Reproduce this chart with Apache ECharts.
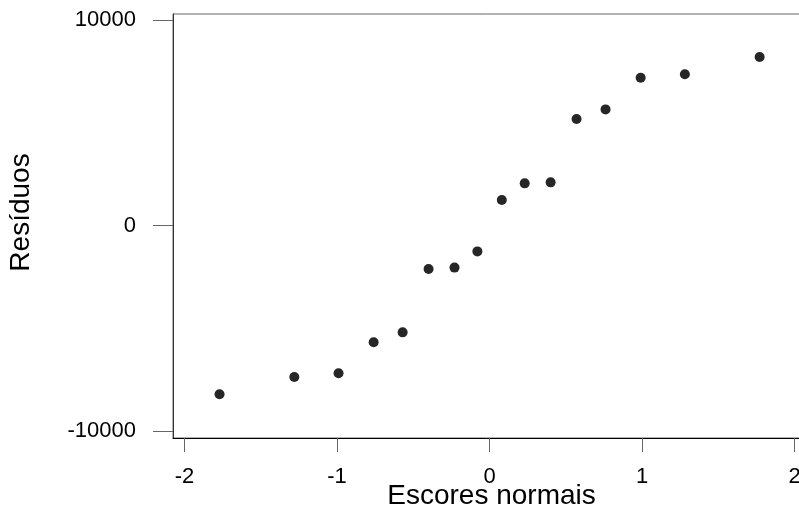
<!DOCTYPE html>
<html>
<head>
<meta charset="utf-8">
<script src="https://cdn.jsdelivr.net/npm/echarts@6/dist/echarts.min.js"></script>
<style>html,body{margin:0;padding:0;background:#fff;}#c{width:799px;height:519px;}</style>
</head>
<body>
<div id="c"></div>
<script>
// Normal scores (x) and residuals (y)
var normalScores = [-1.77, -1.28, -0.99, -0.76, -0.57, -0.40, -0.23, -0.08, 0.08, 0.23, 0.40, 0.57, 0.76, 0.99, 1.28, 1.77];
var residuals = [-8210, -7370, -7190, -5680, -5200, -2120, -2050, -1260, 1240, 2050, 2100, 5180, 5650, 7190, 7360, 8200];
var xTicks = [-2, -1, 0, 1, 2];
var yTicks = [-10000, 0, 10000];
var xName = 'Escores normais';
var yName = 'Resíduos';

var points = normalScores.map(function (x, i) { return [x, residuals[i]]; });
var font = '"Liberation Sans", Arial, sans-serif';

var chart = echarts.init(document.getElementById('c'), null, {renderer: 'canvas'});
chart.setOption({
  animation: false,
  backgroundColor: '#ffffff',
  grid: {
    left: 173, top: 14, width: 637, height: 424,
    outerBoundsMode: 'none', containLabel: false,
    show: true, borderColor: '#666', borderWidth: 1, backgroundColor: 'transparent'
  },
  xAxis: {
    type: 'value', min: -2.075, max: 2.1,
    axisLine: {show: true, onZero: false, lineStyle: {color: '#000', width: 1}},
    axisTick: {show: true, length: 14, customValues: xTicks, lineStyle: {color: '#666'}},
    axisLabel: {customValues: xTicks, margin: 28, fontSize: 22, color: '#000', fontFamily: font,
      formatter: function (v) { return String(v); }},
    splitLine: {show: false}
  },
  yAxis: {
    type: 'value', min: -10341, max: 10292,
    axisLine: {show: true, onZero: false, lineStyle: {color: '#333', width: 1}},
    axisTick: {show: true, length: 20, customValues: yTicks, lineStyle: {color: '#666'}},
    axisLabel: {customValues: yTicks, margin: 37, fontSize: 22, color: '#000', fontFamily: font,
      formatter: function (v) { return String(v); }},
    splitLine: {show: false}
  },
  graphic: [
    {type: 'text', x: 491.5, y: 496.5, style: {text: xName, fontSize: 28, fontFamily: font, fill: '#000', textAlign: 'center', textVerticalAlign: 'middle'}},
    {type: 'text', x: 21, y: 212.5, rotation: Math.PI / 2, style: {text: yName, fontSize: 28, fontFamily: font, fill: '#000', textAlign: 'center', textVerticalAlign: 'middle'}}
  ],
  series: [{
    type: 'scatter',
    data: points,
    symbol: 'circle',
    symbolSize: 10,
    itemStyle: {color: '#262626', opacity: 1}
  }]
});
</script>
</body>
</html>
